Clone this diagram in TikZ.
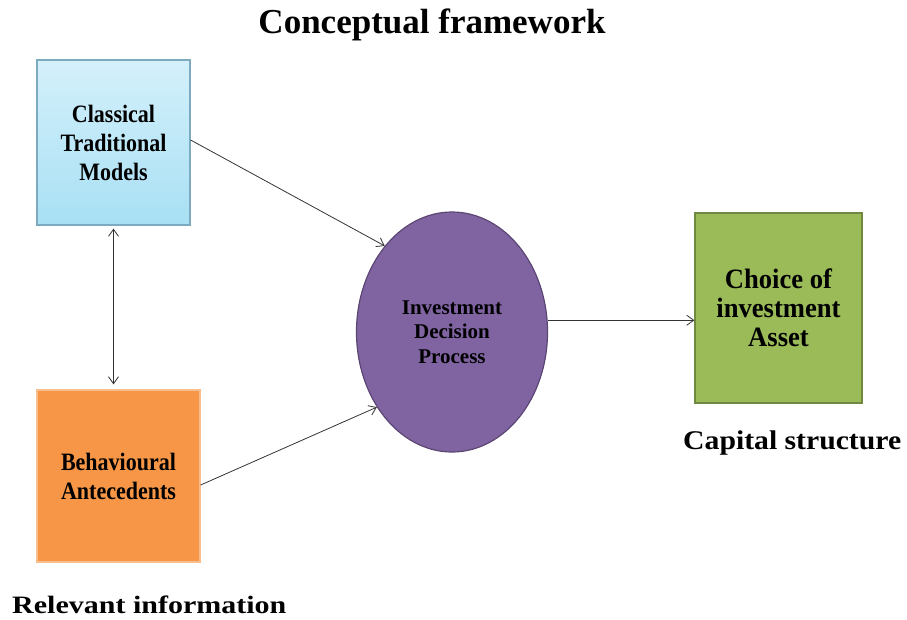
\documentclass[tikz,border=0pt]{standalone}
\usepackage{fontspec}
\setmainfont{Liberation Serif}
\newfontfamily\condensedserif[FakeStretch=0.88]{Liberation Serif}
\newfontfamily\slimserif[FakeStretch=0.95]{Liberation Serif}
\newfontfamily\wideserif[FakeStretch=1.1]{Liberation Serif}
\newfontfamily\widerserif[FakeStretch=1.2]{Liberation Serif}
\usetikzlibrary{arrows.meta,shapes.geometric}
\definecolor{skytop}{RGB}{212,240,251}
\definecolor{skybottom}{RGB}{168,224,244}
\definecolor{skyedge}{RGB}{125,170,190}
\definecolor{orangefill}{RGB}{247,150,70}
\definecolor{orangeedge}{RGB}{250,190,140}
\definecolor{purplefill}{RGB}{128,100,162}
\definecolor{purpleedge}{RGB}{90,70,115}
\definecolor{greenfill}{RGB}{155,187,89}
\definecolor{greenedge}{RGB}{113,137,63}
\begin{document}
\begin{tikzpicture}[x=1pt,y=-1pt,
  box/.style={draw, line width=1.2pt, inner sep=0pt, align=center},
  tip/.tip={Straight Barb[length=7pt,width=10pt]},
  link/.style={line width=0.8pt, draw=black!80, -tip}]
\useasboundingbox (0,0) rectangle (907,619);
% title
\node[font=\bfseries\fontsize{35}{38}\selectfont] (title) at (432,25) {Conceptual framework};
% left-hand boxes
\node[box, draw=skyedge, minimum width=153pt, minimum height=165pt,
      top color=skytop, bottom color=skybottom,
      font=\condensedserif\bfseries\fontsize{25}{29}\selectfont] (classic) at (113.5,142.5)
      {Classical\\Traditional\\Models};
\node[box, draw=orangeedge, fill=orangefill,
      minimum width=163pt, minimum height=172pt,
      font=\condensedserif\bfseries\fontsize{25}{29}\selectfont] (behav) at (118.5,476)
      {Behavioural\\Antecedents};
% central process
\node[ellipse, draw=purpleedge, line width=1.2pt, fill=purplefill,
      minimum width=191pt, minimum height=240pt, inner sep=0pt, align=center,
      font=\bfseries\fontsize{21}{24.5}\selectfont] (proc) at (452,332)
      {Investment\\Decision\\Process};
% outcome box
\node[box, draw=greenedge, fill=greenfill,
      minimum width=167pt, minimum height=190pt,
      font=\slimserif\bfseries\fontsize{28}{29}\selectfont] (choice) at (778.5,308)
      {Choice of\\investment\\Asset};
% captions
\node[font=\wideserif\bfseries\fontsize{27}{29}\selectfont, anchor=base west, inner sep=0pt]
  (capital) at (683,449) {Capital structure};
\node[font=\widerserif\bfseries\fontsize{25}{27}\selectfont, anchor=base west, inner sep=0pt]
  (relevant) at (12,613) {Relevant information};
% connectors
\draw[link] (classic.east |- 0,140) -- (proc.128);
\draw[link] (behav.east |- 0,485) -- (proc.-135);
\draw[link] (proc.7) -- (proc.7 -| choice.west);
\draw[line width=0.8pt, draw=black!80, tip-tip]
  ([yshift=-3pt]classic.south) -- ([yshift=5pt]behav.north -| classic.south);
\end{tikzpicture}
\end{document}
